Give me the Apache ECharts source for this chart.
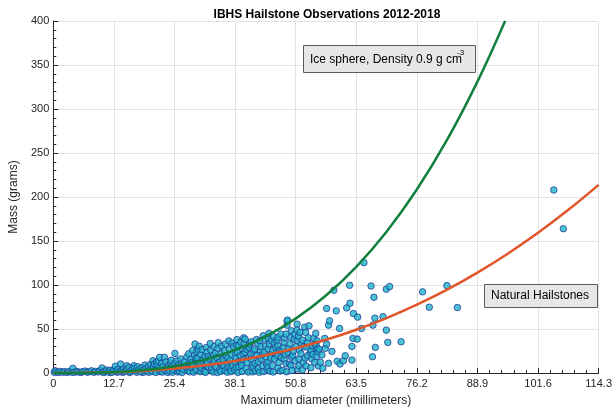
<!DOCTYPE html>
<html>
<head>
<meta charset="utf-8">
<script src="https://cdn.jsdelivr.net/npm/echarts@6/dist/echarts.min.js"></script>
<style>
  html, body { margin: 0; padding: 0; background: #fff; }
  #chart { width: 615px; height: 412px; }
</style>
</head>
<body>
<div id="chart"></div>
<script>
// Axis tick labels (diameters in mm, 0.5 inch steps)
const xTickLabels = ['0', '12.7', '25.4', '38.1', '50.8', '63.5', '76.2', '88.9', '101.6', '114.3'];
const yTickLabels = ['0', '50', '100', '150', '200', '250', '300', '350', '400'];

// Observed hailstones: [maximum diameter (mm), mass (g)]
const hailSmall = [
  [0.2,0.8],[0.4,2.6],[0.7,1.2],[1.1,0.5],[1.5,1.8],[2.0,0.9],[2.4,1.5],[2.9,0.6],[3.3,1.7],[3.8,1.0],
  [4.1,5.3],[4.4,0.7],[4.9,1.9],[5.3,1.1],[5.8,0.6],[6.2,1.6],[6.7,2.2],[7.1,0.9],[7.6,1.4],[8.0,2.5],
  [8.5,0.8],[8.9,1.9],[9.4,1.2],[9.8,2.8],[10.2,5.7],[10.4,1.0],[10.6,0.5],[12.0,0.6],[13.4,0.9],[14.6,0.7],
  [16.0,0.5],[17.5,0.8],[18.8,0.6],
  [10.8,2.3],[11.2,3.4],[11.5,1.2],[11.9,2.9],[12.3,0.8],[12.7,3.8],[13.0,7.6],[13.2,2.1],[13.6,4.3],[14.0,1.5],
  [14.1,10.2],[14.4,3.2],[14.8,5.0],[15.1,2.0],[15.4,8.3],[15.5,4.1],[15.9,6.2],[16.2,1.6],[16.5,3.6],[16.9,8.3],
  [17.0,5.4],[17.3,2.4],[17.7,7.0],[18.0,4.0],[18.3,1.3],[18.6,6.1],[18.9,3.2],[19.2,9.0],[19.4,5.0],[19.8,2.1],[19.9,7.2]
];

const hailMedium = [
  [20.0,0.8],[20.2,4.0],[20.4,9.8],[20.6,1.8],[20.9,14.0],[21.0,6.6],[21.2,10.2],[21.4,3.2],[21.5,0.6],[21.6,12.1],
  [21.8,8.0],[22.0,13.5],[22.1,5.0],[22.3,17.8],[22.4,1.6],[22.7,10.8],[22.9,1.0],[23.0,7.0],[23.3,17.8],[23.3,3.4],
  [23.6,12.4],[23.9,5.4],[24.0,0.7],[24.2,9.0],[24.4,1.9],[24.6,11.5],[24.7,14.5],[24.9,7.2],[25.0,0.8],[25.2,3.8],
  [25.5,22.3],[25.5,11.0],[25.8,5.8],[26.0,14.0],[26.1,1.2],[26.2,8.6],[26.4,2.2],[26.6,5.5],[26.7,16.0],[26.9,10.4],
  [27.0,0.6],[27.2,4.6],[27.4,9.5],[27.5,13.0],[27.8,7.5],[28.0,18.5],[28.2,2.5],[28.3,6.5],[28.4,22.0],[28.5,11.5],
  [28.6,1.4],[28.8,15.5],[29.0,6.0],[29.1,12.0],[29.2,25.5],[29.3,9.0],[29.4,0.9],[29.6,20.0],[29.7,32.9],[29.8,13.2],
  [29.9,17.0],[30.0,3.5],[30.1,24.6],[30.3,17.0],[30.4,27.0],[30.5,8.0],[30.6,30.5],[30.7,11.5],[30.8,1.5],[30.9,21.0],
  [31.1,5.0],[31.2,26.5],[31.3,14.5],[31.4,10.0],[31.6,2.0],[31.8,19.0],[31.9,0.7],[32.0,9.5],[32.1,29.0],[32.2,23.5],
  [32.3,12.5],[32.5,18.5],[32.6,6.5],[32.8,16.0],[32.9,33.5],[33.0,26.0],[33.1,3.0],[33.2,6.0],[33.4,10.5],[33.5,1.1],
  [33.6,20.5],[33.7,30.0],[33.8,14.0],[34.0,22.5],[34.1,7.0],[34.3,17.5],[34.4,0.5],[34.5,28.0],[34.6,34.5],[34.7,12.0],
  [34.9,4.0],[35.0,13.0],[35.1,1.8],[35.2,22.0],[35.3,30.5],[35.4,9.0],[35.6,15.0],[35.8,7.5],[35.9,25.3],[36.0,2.5],
  [36.1,33.0],[36.2,19.0],[36.4,11.0],[36.5,0.9],[36.6,17.0],[36.7,6.0],[36.8,36.5],[36.9,27.0],[37.1,14.0],[37.2,4.5],
  [37.3,1.5],[37.4,21.0],[37.5,34.0],[37.6,8.5],[37.8,30.0],[38.0,3.5],[38.1,12.1],[38.2,22.0],[38.3,17.0],[38.3,6.0],
  [38.4,31.7],[38.5,38.0],[38.6,24.0],[38.7,0.6],[38.8,30.9],[38.9,7.0],[39.0,13.5],[39.2,19.5],[39.3,35.0],[39.4,10.5],
  [39.5,8.3],[39.6,1.7],[39.7,27.0],[39.8,21.5],[39.9,15.0],[39.9,40.0]
];

const hailLarge = [
  [40.0,33.5],[40.2,38.5],[40.2,23.5],[40.4,5.0],[40.5,27.0],[40.6,12.0],[40.8,30.0],[40.9,1.0],[41.0,18.0],[41.1,28.5],
  [41.2,32.9],[41.4,21.0],[41.5,35.5],[41.5,15.9],[41.7,9.0],[41.8,1.3],[41.9,6.4],[42.0,25.0],[42.2,27.2],[42.3,11.0],
  [42.4,2.5],[42.6,38.0],[42.7,20.0],[42.9,33.0],[43.0,13.0],[43.0,5.0],[43.2,0.8],[43.3,36.6],[43.4,24.5],[43.5,30.0],
  [43.6,15.9],[43.8,20.5],[43.9,8.0],[44.0,42.3],[44.1,1.6],[44.2,24.0],[44.3,38.5],[44.5,30.5],[44.6,18.0],[44.7,10.0],
  [44.8,4.0],[45.0,27.2],[45.0,12.1],[45.0,6.5],[45.1,39.3],[45.2,45.0],[45.3,33.0],[45.4,2.0],[45.5,21.0],[45.6,17.0],
  [45.7,36.6],[45.9,8.5],[46.0,25.5],[46.1,1.1],[46.2,41.6],[46.3,33.5],[46.4,16.0],[46.6,29.0],[46.8,23.0],[46.9,37.0],
  [47.1,40.5],[47.1,30.9],[47.1,19.6],[47.1,5.7],[47.3,12.0],[47.4,26.0],[47.6,2.2],[47.7,44.2],[47.8,17.5],[47.9,25.0],
  [48.1,3.0],[48.2,29.0],[48.4,34.8],[48.4,15.9],[48.5,40.0],[48.6,21.0],[48.8,44.2],[48.8,10.5],[48.9,1.4],[49.0,54.4],
  [49.0,59.3],[49.1,60.1],[49.2,23.0],[49.3,28.0],[49.5,10.0],[49.6,33.0],[49.8,40.5],[49.8,8.3],[49.9,18.0],[49.9,48.0],
  [50.0,2.8],[50.2,20.0],[50.3,25.0],[50.5,38.5],[50.6,44.0],[50.7,14.0],[50.9,30.0],[51.1,55.5],[51.1,48.7],[51.2,36.6],
  [51.2,4.5],[51.4,42.0],[51.5,15.9],[51.5,8.3],[51.6,26.0],[51.7,46.1],[51.9,22.0],[52.0,33.5],[52.2,37.4],[52.2,3.5],
  [52.4,12.0],[52.5,30.0],[52.7,52.1],[52.8,17.0],[52.9,46.1],[53.0,8.0],[53.1,29.5],[53.3,34.8],[53.3,19.6],[53.5,40.0],
  [53.6,53.6],[53.9,23.5],[54.0,26.0],[54.0,6.0],[54.2,15.9],[54.3,30.9],[54.4,21.0],[54.6,39.3],[54.8,12.1],[54.8,33.0],
  [55.0,45.0],[55.1,31.0],[55.2,18.9],[55.3,36.6],[55.3,27.2],[55.5,24.1],[55.6,8.0],[55.7,27.2],[56.0,12.1],[56.3,20.5],
  [56.5,5.5],[56.9,39.3],[57.0,28.0],[57.3,32.9],[57.3,73.3],[57.7,54.4],[57.7,11.0],[57.9,59.3],[58.4,24.6],[58.8,94.0],
  [59.3,70.6],[59.5,13.3],[60.0,50.6],[60.1,10.2],[60.8,13.9],[61.2,19.6],[61.5,74.0],[62.1,99.7],[62.2,79.3],[62.6,30.2],
  [62.6,14.7],[62.8,39.3],[62.9,67.6],[63.7,38.5],[63.8,63.5],[64.6,50.6],[65.1,125.4],[66.6,98.9],[66.9,18.5],[67.0,54.4],
  [67.2,86.1],[67.4,62.3],[67.5,29.1],[69.1,64.0],[69.8,48.7],[69.8,95.2],[70.1,34.8],[70.5,98.2],[72.9,35.5],[77.4,92.2],
  [78.8,74.8],[82.5,99.3],[84.7,74.4],[104.9,208.0],[106.9,164.0]
];

// Solid ice sphere curve, density 0.9 g/cm3: [diameter (mm), mass (g)]
const iceSphere = [
  [0,0],[6.35,0.12],[12.7,0.97],[19.05,3.3],[25.4,7.7],[31.75,15.1],[38.1,26.1],[44.45,41.4],
  [50.8,61.8],[57.15,88.0],[63.5,120.7],[69.85,160.6],[76.2,208.5],[82.55,265.1],[88.9,331.1],[94.7,400]
];

// Curve through the natural hailstones: [diameter (mm), mass (g)]
const naturalHail = [
  [0,0],[6.35,0.16],[12.7,0.9],[19.05,2.4],[25.4,5.0],[31.75,8.7],[38.1,13.7],[44.45,20.2],
  [50.8,28.2],[57.15,37.8],[63.5,49.2],[69.85,62.4],[76.2,77.6],[82.55,94.8],[88.9,114.1],
  [95.25,135.6],[101.6,159.3],[107.95,185.4],[114.3,213.8]
];

const FONT = '"Liberation Sans", Arial, Helvetica, sans-serif';
const chart = echarts.init(document.getElementById('chart'), null, { renderer: 'canvas' });

const pointStyle = { color: '#1fb7c8', borderColor: '#22399a', borderWidth: 1 };

chart.setOption({
  animation: false,
  backgroundColor: '#ffffff',
  grid: { left: 49, right: 13, top: 21, bottom: 38, containLabel: false },
  xAxis: {
    type: 'value', min: 0, max: 114.3, interval: 12.7,
    name: 'Maximum diameter (millimeters)', nameLocation: 'middle', nameGap: 22,
    nameTextStyle: { fontFamily: FONT, fontSize: 12, color: '#262626' },
    axisLine: { show: true, onZero: false, lineStyle: { color: '#262626', width: 1 } },
    axisTick: { show: true, inside: true, length: 5, lineStyle: { color: '#262626' } },
    minorTick: { show: true, splitNumber: 5, length: 3, lineStyle: { color: '#262626' } },
    axisLabel: {
      fontFamily: FONT, fontSize: 11, color: '#262626', margin: 5,
      formatter: v => xTickLabels[Math.round(v / 12.7)]
    },
    splitLine: { show: true, lineStyle: { color: '#e3e3e3', width: 1 } }
  },
  yAxis: {
    type: 'value', min: 0, max: 400, interval: 50,
    name: 'Mass (grams)', nameLocation: 'middle', nameGap: 29,
    nameTextStyle: { fontFamily: FONT, fontSize: 12, color: '#262626' },
    axisLine: { show: true, onZero: false, lineStyle: { color: '#262626', width: 1 } },
    axisTick: { show: true, inside: true, length: 5, lineStyle: { color: '#262626' } },
    minorTick: { show: true, splitNumber: 5, length: 3, lineStyle: { color: '#262626' } },
    axisLabel: {
      fontFamily: FONT, fontSize: 11, color: '#262626', margin: 4,
      formatter: v => yTickLabels[Math.round(v / 50)]
    },
    splitLine: { show: true, lineStyle: { color: '#e3e3e3', width: 1 } }
  },
  series: [
    { type: 'scatter', data: hailSmall, symbol: 'circle', symbolSize: 6.5, itemStyle: pointStyle, z: 2 },
    { type: 'scatter', data: hailMedium, symbol: 'circle', symbolSize: 6.5, itemStyle: pointStyle, z: 2 },
    { type: 'scatter', data: hailLarge, symbol: 'circle', symbolSize: 6.5, itemStyle: pointStyle, z: 2 },
    {
      type: 'line', data: naturalHail, smooth: 0.4, showSymbol: false, symbol: 'none',
      lineStyle: { color: '#e0552a', width: 2.5 }, z: 3
    },
    {
      type: 'line', data: iceSphere, smooth: 0.4, showSymbol: false, symbol: 'none',
      lineStyle: { color: '#11803f', width: 2.5 }, z: 4
    }
  ],
  graphic: [
    {
      type: 'text', x: 327, y: 15, z: 10,
      style: {
        text: 'IBHS Hailstone Observations 2012-2018', fontFamily: FONT, fontSize: 12, fontWeight: 'bold',
        fill: '#000', align: 'center', verticalAlign: 'middle'
      }
    },
    {
      type: 'rect', x: 303.5, y: 45.5, z: 10,
      shape: { width: 172, height: 27 },
      style: { fill: '#e7e7e7', stroke: '#5a5a5a', lineWidth: 1 }
    },
    {
      type: 'text', x: 310, y: 60, z: 11,
      style: {
        text: 'Ice sphere, Density 0.9 g cm',
        fontFamily: FONT, fontSize: 12, fill: '#000', align: 'left', verticalAlign: 'middle'
      }
    },
    {
      type: 'text', x: 457, y: 53, z: 11,
      style: {
        text: '-3',
        fontFamily: FONT, fontSize: 8, fill: '#000', align: 'left', verticalAlign: 'middle'
      }
    },
    {
      type: 'rect', x: 484.5, y: 284.5, z: 10,
      shape: { width: 113, height: 23 },
      style: { fill: '#e7e7e7', stroke: '#5a5a5a', lineWidth: 1 }
    },
    {
      type: 'text', x: 491, y: 296, z: 11,
      style: {
        text: 'Natural Hailstones', fontFamily: FONT, fontSize: 12, fill: '#000',
        align: 'left', verticalAlign: 'middle'
      }
    }
  ]
});
</script>
</body>
</html>
